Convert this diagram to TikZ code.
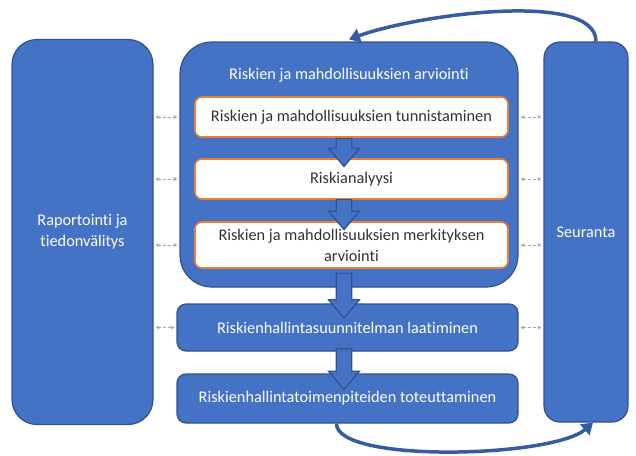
\documentclass[tikz,border=0pt]{standalone}
\usepackage{fontspec}
\setmainfont{Carlito}[Ligatures=NoCommon]
\usetikzlibrary{calc, shapes.arrows, arrows.meta, positioning}

\definecolor{officeblue}{HTML}{4472C4}
\definecolor{darkblue}{HTML}{2F528F}
\definecolor{officeorange}{HTML}{ED7D31}

\begin{document}
\begin{tikzpicture}[
  x=1pt, y=-1pt,
  font=\fontsize{16.3}{21}\selectfont,
  bluebox/.style={
    draw=darkblue,
    line width=1.2pt,
    fill=officeblue,
    text=white,
    align=center
    },
  whitebox/.style={
    draw=officeorange,
    line width=1.6pt,
    fill=white,
    rounded corners=7pt,
    text=black!80,
    align=center,
    minimum width=313pt
    },
  blockarrow/.style={
    draw=darkblue,
    line width=1.2pt,
    fill=officeblue,
    single arrow,
    single arrow tip angle=80,
    inner sep=6.5pt,
    minimum width=31pt,
    minimum height=#1,
    rotate=-90
    },
  infoarrow/.style={
    {Stealth[length=4pt,width=4pt]}-{Stealth[length=4pt,width=4pt]},
    densely dashed,
    gray!70,
    line width=0.6pt,
    shorten <=2pt,
    shorten >=2pt
    },
  looparrow/.style={
    -{Triangle[length=11pt,width=14pt]},
    line width=3.5pt,
    draw=darkblue!70!officeblue
    }
]
\useasboundingbox (0,0) rectangle (636,455);

% side boxes
\node[bluebox, rounded corners=25pt, minimum width=141pt, minimum height=385pt]
  (rapo) at (82.5,232) {Raportointi ja\\tiedonvälitys};
\node[bluebox, rounded corners=16pt, minimum width=84pt, minimum height=380pt]
  (seur) at (586,232) {Seuranta};

% assessment
\node[bluebox, rounded corners=32pt, minimum width=338pt, minimum height=245pt]
  (arvi) at (349,164.5) {};
\node[text=white] (arvititle) at (349,75) {Riskien ja mahdollisuuksien arviointi};
\node[whitebox, minimum height=40pt] (tunn) at (351.5,117)
  {Riskien ja mahdollisuuksien tunnistaminen};
\node[whitebox, minimum height=40pt] (anal) at (351.5,179) {Riskianalyysi};
\node[whitebox, minimum height=46pt] (merk) at (351.5,245)
  {Riskien ja mahdollisuuksien merkityksen\\arviointi};

% management
\node[bluebox, rounded corners=9pt, minimum width=341pt, minimum height=47pt]
  (suun) at (347.5,327.5) {Riskienhallintasuunnitelman laatiminen};
\node[bluebox, rounded corners=9pt, minimum width=341pt, minimum height=49pt]
  (tote) at (347.5,398.5) {Riskienhallintatoimenpiteiden toteuttaminen};

% block arrows
\node[blockarrow=28pt] (a1) at (344,148) {};
\node[blockarrow=30pt] (a2) at (344,210) {};
\node[blockarrow=45pt] (a3) at (344,291) {};
\node[blockarrow=41pt] (a4) at (344,364.5) {};

% information flows
\foreach \row in {tunn, anal, merk} {
  \draw[infoarrow] (rapo.east |- \row) -- (arvi.west |- \row);
  \draw[infoarrow] (arvi.east |- \row) -- (seur.west |- \row);
}
\draw[infoarrow] (rapo.east |- suun) -- (suun.west);
\draw[infoarrow] (suun.east) -- (seur.west |- suun);

% feedback loops
\draw[looparrow] ([xshift=10pt]seur.north) .. controls +(0,-52) and +(65,-24) .. ([yshift=2pt]arvi.north);
\draw[looparrow] ([xshift=-11pt]tote.south) .. controls +(0,40) and +(-40,35) .. ([xshift=7pt]seur.south);

\end{tikzpicture}
\end{document}
